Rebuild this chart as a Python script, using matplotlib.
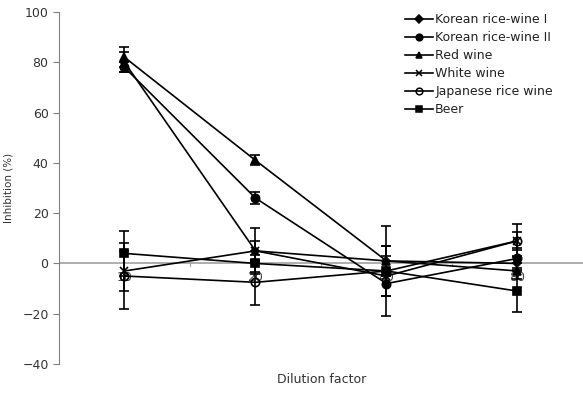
import numpy as np
import matplotlib.pyplot as plt
from matplotlib.lines import Line2D

plt.rcParams['font.family'] = ['DejaVu Sans']

dilution = ['10', '20', '40', '80']

kr_wine1 = [80, 5, 1, 0]
kr_wine1_err = [4, 9, 6, 3]
kr_wine2 = [78, 26, -8, 2]
kr_wine2_err = [2, 2.5, 5, 4]
red_wine = [82, 41, 1, -3]
red_wine_err = [4, 2, 6, 3]
white_wine = [-3, 5, -5, 9]
white_wine_err = [8, 4, 8, 3.5]
jp_rice_wine = [-5, -7.5, -3, 9]
jp_rice_wine_err = [13, 9, 10, 6.5]
beer = [4, 0, -3, -11]
beer_err = [9, 3.5, 18, 8.5]

series = [
    ('Korean rice-wine I', kr_wine1, kr_wine1_err, 'D', 'black', 4.5),
    ('Korean rice-wine II', kr_wine2, kr_wine2_err, 'o', 'black', 6),
    ('Red wine', red_wine, red_wine_err, '^', 'black', 6),
    ('White wine', white_wine, white_wine_err, 'x', 'black', 6),
    ('Japanese rice wine', jp_rice_wine, jp_rice_wine_err, 'o', 'none', 6),
    ('Beer', beer, beer_err, 's', 'black', 6),
]

fig = plt.figure(figsize=(5.83, 3.94), dpi=100)
ax = fig.add_axes([0.1012, 0.0761, 0.8988, 0.8934])

xs = np.arange(len(dilution))
handles = []
for name, vals, errs, mk, fc, ms in series:
    ax.errorbar(xs, vals, yerr=errs, color='black', lw=1.2, marker=mk,
                ms=ms, mfc=fc, mec='black', mew=1.2, capsize=3.5,
                elinewidth=1.2, capthick=1.2)
    handles.append(Line2D([], [], color='black', lw=1.2, marker=mk,
                          ms=ms * 0.8, mfc=fc, mec='black', mew=1.1,
                          label=name))

ax.set_xlim(-0.5, 3.5)
ax.set_ylim(-40, 100)
ax.set_yticks(range(-40, 101, 20))
ax.tick_params(axis='y', colors='#808080', labelcolor='#333333',
               labelsize=9, length=4, direction='out')

# category axis sits on the zero line
ax.axhline(0, color='#a0a0a0', lw=1.2, zorder=0)
ax.set_xticks([])
for x, lab in zip(xs, dilution):
    ax.text(x, -3.2, lab, ha='center', va='top', fontsize=9, color='#444444',
            zorder=0)
for b in [0.5, 1.5, 2.5]:
    ax.plot([b, b], [0, -1.2], color='#a0a0a0', lw=0.8, zorder=0)

for s in ['top', 'right', 'bottom']:
    ax.spines[s].set_visible(False)
ax.spines['left'].set_color('#808080')

ax.set_ylabel('Inhibition (%)', fontsize=7.5, color='#333333', labelpad=6)
fig.text(0.551, 0.02, 'Dilution factor', ha='center', va='bottom',
         fontsize=9, color='#333333')

leg = ax.legend(handles=handles, loc='upper left',
                bbox_to_anchor=(0.65, 1.01), frameon=False,
                fontsize=9, handlelength=2.3, handletextpad=0.15,
                labelspacing=0.4, borderaxespad=0)
for t in leg.get_texts():
    t.set_color('#222222')

fig.savefig('out.png', dpi=100)
